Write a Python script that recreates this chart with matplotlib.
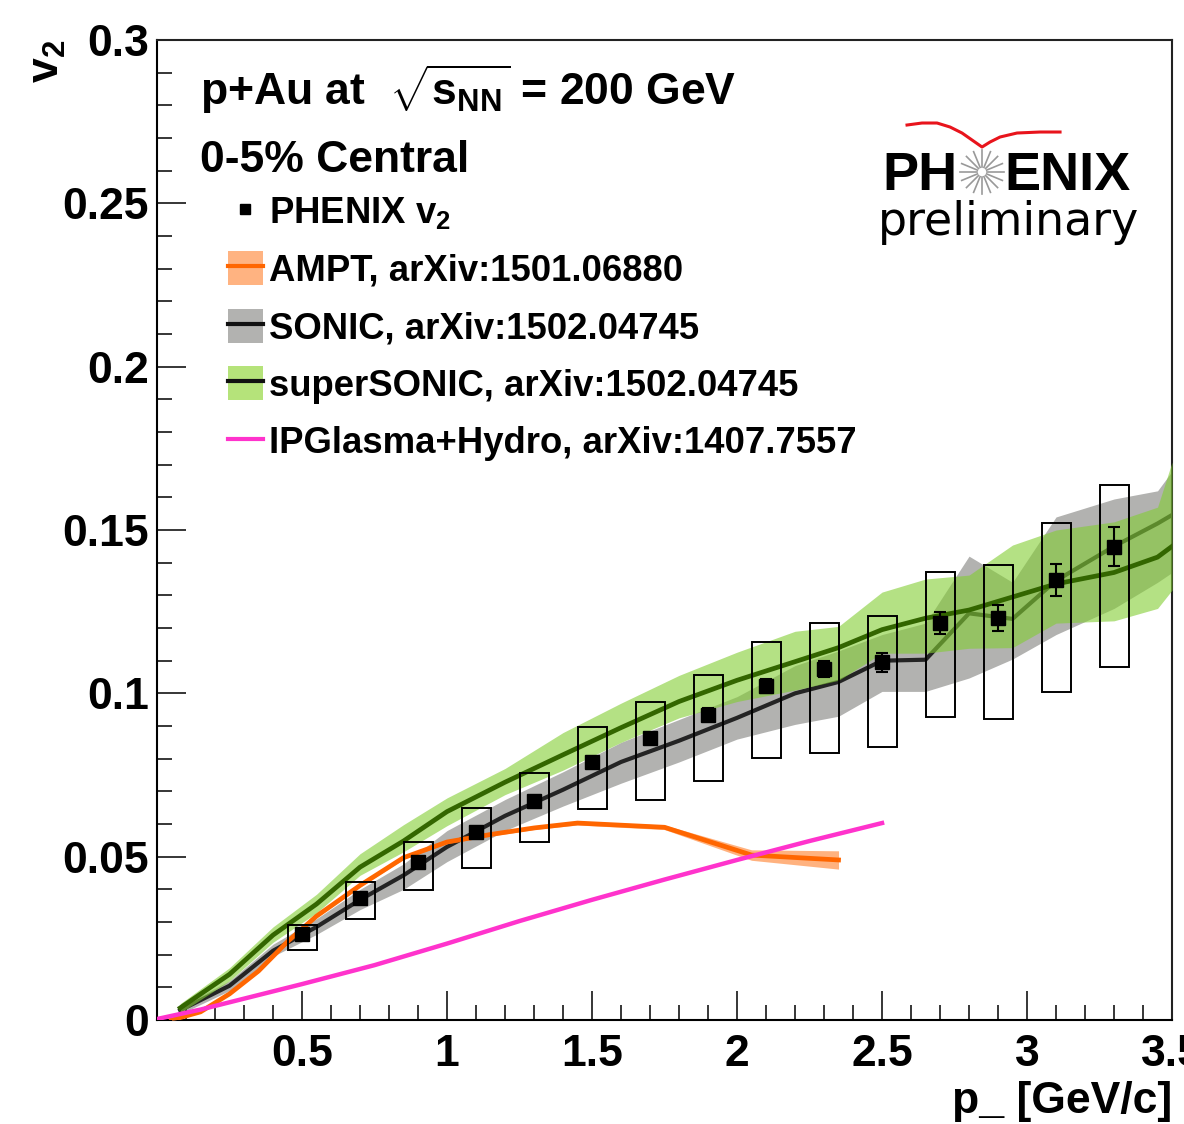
import numpy as np
import matplotlib
matplotlib.use('Agg')
import matplotlib.pyplot as plt
from matplotlib.patches import Rectangle, Patch
from matplotlib.lines import Line2D

plt.rcParams['font.family'] = ['Liberation Sans', 'DejaVu Sans']
plt.rcParams['font.weight'] = 'bold'
plt.rcParams['mathtext.fontset'] = 'custom'
plt.rcParams['mathtext.rm'] = 'Liberation Sans:bold'
plt.rcParams['mathtext.it'] = 'Liberation Sans:bold'
plt.rcParams['mathtext.bf'] = 'Liberation Sans:bold'

# PHENIX v2 data points
pt = [0.5, 0.7, 0.9, 1.1, 1.3, 1.5, 1.7, 1.9, 2.1, 2.3, 2.5, 2.7, 2.9, 3.1, 3.3]
v2 = [0.0263, 0.0373, 0.0484, 0.0575, 0.0670, 0.0790, 0.0863, 0.0934, 0.1022,
      0.1074, 0.1095, 0.1215, 0.1232, 0.1347, 0.1449]
v2_stat = [0.001, 0.001, 0.001, 0.0012, 0.0013, 0.0015, 0.0017, 0.002, 0.0022,
           0.0025, 0.003, 0.0034, 0.004, 0.005, 0.006]
v2_sys_lo = [0.0214, 0.0309, 0.0398, 0.0465, 0.0545, 0.0646, 0.0673, 0.0732, 0.0802,
             0.0817, 0.0836, 0.0927, 0.0921, 0.1004, 0.1080]
v2_sys_hi = [0.0291, 0.0422, 0.0545, 0.0649, 0.0756, 0.0897, 0.0973, 0.1056, 0.1157,
             0.1215, 0.1237, 0.1371, 0.1393, 0.1521, 0.1638]

# AMPT
ampt_pt = [0.05, 0.15, 0.25, 0.35, 0.45, 0.55, 0.7, 0.85, 1.0, 1.15, 1.3, 1.45, 1.75, 2.05, 2.35]
ampt_v2 = [0.0000, 0.0025, 0.0080, 0.0150, 0.0240, 0.0318, 0.0412, 0.0497, 0.0545,
           0.0568, 0.0588, 0.0603, 0.0590, 0.0505, 0.0490]
ampt_err = [0.0003, 0.0003, 0.0003, 0.0004, 0.0004, 0.0004, 0.0005, 0.0005, 0.0005,
            0.0005, 0.0005, 0.0006, 0.0007, 0.0016, 0.0028]

# SONIC
sonic_pt = [0.08, 0.25, 0.4, 0.55, 0.7, 0.85, 1.0, 1.2, 1.4, 1.6, 1.8, 2.0, 2.2, 2.35,
            2.5, 2.65, 2.8, 2.95, 3.1, 3.3, 3.45, 3.5]
sonic_v2 = [0.0030, 0.0105, 0.0212, 0.0285, 0.0368, 0.0443, 0.0530, 0.0625, 0.0705,
            0.0790, 0.0855, 0.0925, 0.1000, 0.1035, 0.1100, 0.1103, 0.1245, 0.1228,
            0.1345, 0.1450, 0.1520, 0.1546]
sonic_lo = [0.0018, 0.0090, 0.0195, 0.0262, 0.0338, 0.0400, 0.0485, 0.0580, 0.0655,
            0.0725, 0.0790, 0.0860, 0.0905, 0.0930, 0.1006, 0.1006, 0.1047, 0.1105,
            0.1180, 0.1260, 0.1340, 0.1370]
sonic_hi = [0.0042, 0.0120, 0.0232, 0.0310, 0.0400, 0.0478, 0.0580, 0.0675, 0.0760,
            0.0850, 0.0920, 0.0990, 0.1085, 0.1130, 0.1180, 0.1215, 0.1420, 0.1340,
            0.1540, 0.1595, 0.1620, 0.1680]

# superSONIC
ssonic_pt = [0.08, 0.25, 0.4, 0.55, 0.7, 0.85, 1.0, 1.2, 1.4, 1.6, 1.8, 2.0, 2.2, 2.35,
             2.5, 2.65, 2.8, 2.95, 3.1, 3.3, 3.45, 3.5]
ssonic_v2 = [0.0037, 0.0140, 0.0260, 0.0355, 0.0468, 0.0548, 0.0638, 0.0728, 0.0812,
             0.0895, 0.0975, 0.1040, 0.1097, 0.1140, 0.1195, 0.1230, 0.1255, 0.1295,
             0.1335, 0.1370, 0.1417, 0.1450]
ssonic_lo = [0.0022, 0.0120, 0.0238, 0.0328, 0.0443, 0.0515, 0.0595, 0.0690, 0.0765,
             0.0850, 0.0925, 0.0975, 0.1010, 0.1040, 0.1123, 0.1123, 0.1138, 0.1140,
             0.1215, 0.1222, 0.1260, 0.1316]
ssonic_hi = [0.0050, 0.0160, 0.0285, 0.0385, 0.0509, 0.0598, 0.0680, 0.0770, 0.0880,
             0.0970, 0.1055, 0.1126, 0.1190, 0.1205, 0.1310, 0.1350, 0.1362, 0.1454,
             0.1500, 0.1525, 0.1570, 0.1708]

# IPGlasma+Hydro
ipg_pt = [0.0, 0.15, 0.5, 0.75, 1.0, 1.25, 1.5, 1.75, 2.0, 2.25, 2.5]
ipg_v2 = [0.0003, 0.0032, 0.0110, 0.0168, 0.0234, 0.0303, 0.0368, 0.0430, 0.0490,
          0.0548, 0.0603]

xticks = [0.5, 1.0, 1.5, 2.0, 2.5, 3.0, 3.5]
xticklabels = ['0.5', '1', '1.5', '2', '2.5', '3', '3.5']
yticks = [0.0, 0.05, 0.1, 0.15, 0.2, 0.25, 0.3]
yticklabels = ['0', '0.05', '0.1', '0.15', '0.2', '0.25', '0.3']

c_ampt = '#ff6600'
c_ampt_band = '#ff7f2a'
c_gray = '#b2b2b0'
c_sonic = '#242424'
c_green = '#82cd32'
c_ssonic = '#336600'
c_ipg = '#ff33cc'

fig = plt.figure(figsize=(11.84, 11.24), dpi=100)
ax = fig.add_axes([0.1326, 0.0925, 0.8573, 0.8719])

# model bands and lines
ax.fill_between(sonic_pt, sonic_lo, sonic_hi, color=c_gray, lw=0, zorder=1)
ax.plot(sonic_pt, sonic_v2, color=c_sonic, lw=3.0, zorder=2)
ax.fill_between(ssonic_pt, ssonic_lo, ssonic_hi, color=c_green, alpha=0.6, lw=0, zorder=3)
ax.plot(ssonic_pt, ssonic_v2, color=c_ssonic, lw=3.4, zorder=4)

ampt_lo = np.array(ampt_v2) - np.array(ampt_err)
ampt_hi = np.array(ampt_v2) + np.array(ampt_err)
ax.fill_between(ampt_pt, ampt_lo, ampt_hi, color=c_ampt_band, alpha=0.6, lw=0, zorder=5)
ax.plot(ampt_pt, ampt_v2, color=c_ampt, lw=3.4, zorder=6)

ax.plot(ipg_pt, ipg_v2, color=c_ipg, lw=3.2, zorder=7)

# systematic boxes
for x, lo, hi in zip(pt, v2_sys_lo, v2_sys_hi):
    ax.add_patch(Rectangle((x - 0.05, lo), 0.1, hi - lo, fill=False,
                           edgecolor='black', lw=1.4, zorder=8))

ax.errorbar(pt, v2, yerr=v2_stat, fmt='s', color='black', ms=10, elinewidth=1.5,
            capsize=4.5, capthick=1.5, zorder=9)

ax.set_xlim(0, 3.5)
ax.set_ylim(0, 0.3)
ax.set_xticks(xticks)
ax.set_xticklabels(xticklabels)
ax.set_yticks(yticks)
ax.set_yticklabels(yticklabels)
ax.set_xticks(np.arange(0.1, 3.5, 0.1), minor=True)
ax.set_yticks(np.arange(0.01, 0.3, 0.01), minor=True)
ax.tick_params(which='both', direction='in', top=False, right=False, width=1.1,
               labelsize=32)
ax.tick_params(which='major', length=21)
ax.tick_params(which='minor', length=10.5)
ax.tick_params(axis='x', pad=10)
ax.tick_params(axis='y', pad=6)
for lab in ax.get_xticklabels() + ax.get_yticklabels():
    lab.set_fontweight('bold')
for side in ['left', 'bottom']:
    ax.spines[side].set_linewidth(1.5)
for side in ['top', 'right']:
    ax.spines[side].set_linewidth(1.5)
    ax.spines[side].set_color('#222222')

ax.set_xlabel('p_ [GeV/c]', fontsize=32, fontweight='bold', loc='right')
ax.xaxis.set_label_coords(1.0, -0.062)
ax.set_ylabel('v$_2$', fontsize=32, fontweight='bold', loc='top')
ax.yaxis.set_label_coords(-0.088, 1.0)

ax.text(0.042, 0.934, r'p+Au at  $\sqrt{s_{NN}}$ = 200 GeV', transform=ax.transAxes,
        fontsize=32, fontweight='bold', va='baseline')
ax.text(0.042, 0.865, '0-5% Central', transform=ax.transAxes,
        fontsize=32, fontweight='bold', va='baseline')

# legend
handles = [
    Line2D([], [], marker='s', ls='none', color='black', ms=7),
    (Patch(color='#ffb381', lw=0), Line2D([], [], color=c_ampt, lw=3)),
    (Patch(color=c_gray, lw=0), Line2D([], [], color='#111111', lw=3)),
    (Patch(color='#b5e37a', lw=0), Line2D([], [], color='#111111', lw=3)),
    Line2D([], [], color=c_ipg, lw=3),
]
labels = ['PHENIX v$_2$', 'AMPT, arXiv:1501.06880', 'SONIC, arXiv:1502.04745',
          'superSONIC, arXiv:1502.04745', 'IPGlasma+Hydro, arXiv:1407.7557']
leg = ax.legend(handles, labels, loc='upper left', bbox_to_anchor=(0.070, 0.843),
                frameon=False, prop={'size': 26.3, 'weight': 'bold'},
                handlelength=0.95, handleheight=1.05, handletextpad=0.17,
                labelspacing=0.55, borderpad=0, borderaxespad=0)

# PHENIX preliminary logo
W, H = 1015.0, 980.0
def fx(px):
    return (px - 157) / W
def fy(py):
    return (1020 - py) / H
ax.text(fx(882), fy(190), 'PH', transform=ax.transAxes, fontsize=39,
        fontweight='bold', va='baseline', ha='left')
ax.text(fx(1004), fy(190), 'ENIX', transform=ax.transAxes, fontsize=39,
        fontweight='bold', va='baseline', ha='left')
ang = np.linspace(0, 2 * np.pi, 16, endpoint=False)
for a in ang:
    ax.plot([fx(982 + 5 * np.cos(a)), fx(982 + 22 * np.cos(a))],
            [fy(172 - 5 * np.sin(a)), fy(172 - 22 * np.sin(a))],
            transform=ax.transAxes, color='#999999', lw=1.2, zorder=10)
arc_x = [907, 922, 937, 950, 962, 972, 982, 990, 1000, 1017, 1040, 1060]
arc_y = [125, 123, 123, 127, 133, 140, 147, 142, 137, 133, 132, 132]
ax.plot([fx(v) for v in arc_x], [fy(v) for v in arc_y], transform=ax.transAxes,
        color='#e8141c', lw=2.2, zorder=10)
ax.text(fx(1008), fy(222), 'preliminary', transform=ax.transAxes, fontsize=33,
        fontweight='normal', family='DejaVu Sans', va='center', ha='center')

fig.savefig('out.png', dpi=100)
